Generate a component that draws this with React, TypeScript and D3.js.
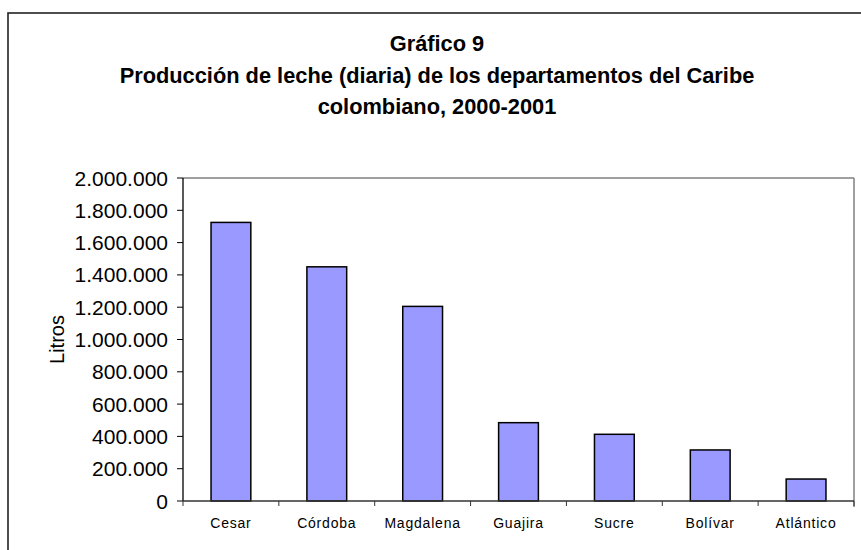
import React from "react";
import * as d3 from "d3";

const categories = ["Cesar", "Córdoba", "Magdalena", "Guajira", "Sucre", "Bolívar", "Atlántico"];
const values = [1725000, 1450000, 1205000, 485000, 413000, 316000, 136000];
const yTicks = [0, 200000, 400000, 600000, 800000, 1000000, 1200000, 1400000, 1600000, 1800000, 2000000];
const titleLines = [
  "Gráfico 9",
  "Producción de leche (diaria) de los departamentos del Caribe",
  "colombiano, 2000-2001",
];

const W = 861;
const H = 550;
const left = 183;
const right = 854;
const top = 178;
const bottom = 501;

export default function App() {
  const x = d3
    .scaleBand<string>()
    .domain(categories)
    .range([left, right])
    .paddingInner(0.585)
    .paddingOuter(0.2925);
  const y = d3.scaleLinear().domain([0, 2000000]).range([bottom, top]);
  const fmt = (v: number) => d3.format(",")(v).replace(/,/g, ".");
  const step = x.step();
  const boundaries = d3.range(categories.length + 1).map((i) => left + i * step);
  const font = "Arial, 'Liberation Sans', sans-serif";

  return (
    <svg
      width={W}
      height={H}
      style={{ position: "absolute", left: 0, top: 0, background: "#fff" }}
      fontFamily={font}
    >
      <rect x={8} y={13} width={W + 10} height={H + 10} fill="#fff" stroke="#222" strokeWidth={1.6} />
      {titleLines.map((t, i) => (
        <text
          key={i}
          x={437}
          y={51 + i * 31.5}
          textAnchor="middle"
          fontSize={21.8}
          fontWeight="bold"
          fill="#000"
        >
          {t}
        </text>
      ))}
      {/* plot frame top/right */}
      <line x1={left} x2={right} y1={top} y2={top} stroke="#808080" strokeWidth={1.5} />
      <line x1={right} x2={right} y1={top} y2={bottom + 6} stroke="#808080" strokeWidth={1.5} />
      {/* bars */}
      {categories.map((c, i) => (
        <rect
          key={c}
          x={x(c)}
          y={y(values[i])}
          width={x.bandwidth()}
          height={bottom - y(values[i])}
          fill="#9999FF"
          stroke="#000"
          strokeWidth={1.5}
        />
      ))}
      {/* y axis */}
      <line x1={left} x2={left} y1={top} y2={bottom} stroke="#000" strokeWidth={1.3} />
      {yTicks.map((t) => (
        <g key={t}>
          <line x1={left - 6} x2={left} y1={y(t)} y2={y(t)} stroke="#000" strokeWidth={1} />
          <text x={168} y={y(t)} dy="0.36em" textAnchor="end" fontSize={21} fill="#000">
            {fmt(t)}
          </text>
        </g>
      ))}
      {/* x axis */}
      <line x1={left} x2={right} y1={bottom} y2={bottom} stroke="#333" strokeWidth={1.5} />
      {boundaries.map((b, i) => (
        <line key={i} x1={b} x2={b} y1={bottom} y2={bottom + 5} stroke="#333" strokeWidth={1} />
      ))}
      {categories.map((c) => (
        <text
          key={c}
          x={(x(c) as number) + x.bandwidth() / 2}
          y={528}
          textAnchor="middle"
          fontSize={14}
          letterSpacing={0.8}
          fill="#000"
        >
          {c}
        </text>
      ))}
      <text
        transform={`translate(64, ${(top + bottom) / 2}) rotate(-90)`}
        textAnchor="middle"
        fontSize={20}
        fill="#000"
      >
        Litros
      </text>
    </svg>
  );
}
